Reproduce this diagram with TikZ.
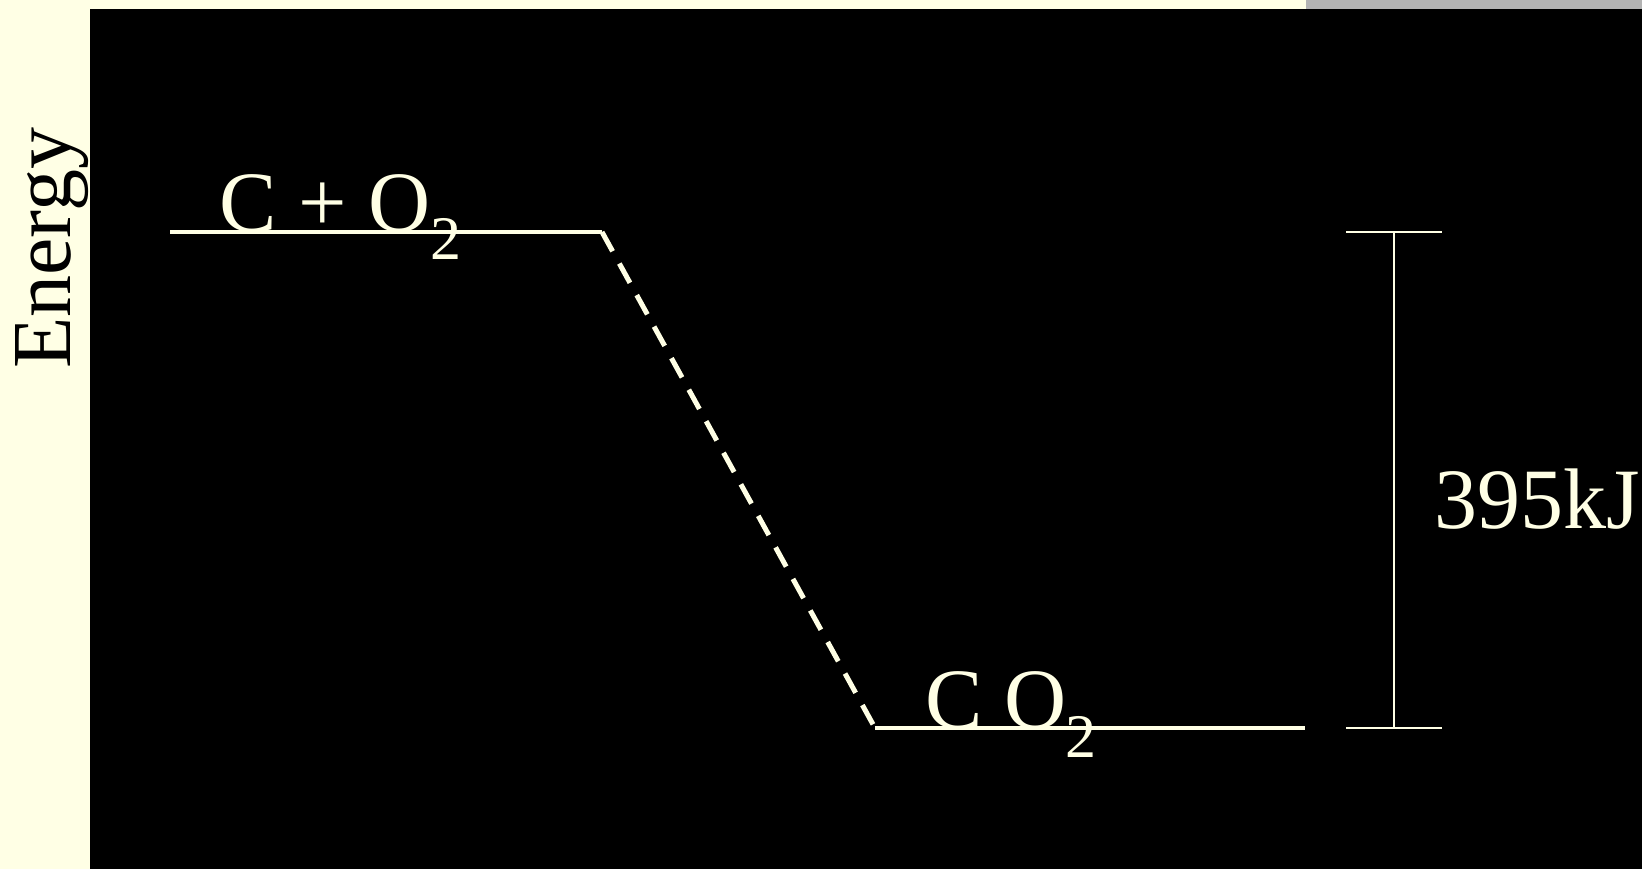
\documentclass[tikz,border=0pt]{standalone}
\usepackage{fontspec}
\setmainfont{Liberation Serif}
\definecolor{cream}{HTML}{FFFFE5}
\definecolor{topgray}{HTML}{B3B3B3}
\begin{document}
\begin{tikzpicture}[x=1pt,y=-1pt,
  bigtxt/.style={inner sep=0pt, font=\fontsize{86}{100}\selectfont},
  lbl/.style={bigtxt, text=cream, anchor=base west},
  level/.style={draw=cream, line width=4pt},
  trans/.style={draw=cream, line width=5pt, dash pattern=on 22pt off 14pt},
  bracket/.style={draw=cream, line width=2.5pt}]
\useasboundingbox (0,0) rectangle (1642,869);
\fill[cream] (0,0) rectangle (1642,869);
\fill[topgray] (1306,0) rectangle (1642,9);
\fill[black] (90,9) rectangle (1642,869);
% axis label
\node[inner sep=0pt, font=\fontsize{84}{100}\selectfont, text=black, rotate=90, anchor=base west] (energy) at (70,369) {Energy};
% levels
\coordinate (r1) at (170,232);
\coordinate (r2) at (602,232);
\coordinate (p1) at (875,728);
\coordinate (p2) at (1305,728);
\draw[level] (r1) -- (r2);
\draw[level] (p1) -- (p2);
\draw[trans] (r2) -- (p1);
\node[lbl] (react) at (219,232) {C + O\hspace{0pt}\raisebox{-28pt}{\fontsize{62}{62}\selectfont 2}};
\node[lbl] (prod) at (925,728) {C O\hspace{-1pt}\raisebox{-29pt}{\fontsize{62}{62}\selectfont 2}};
% bracket
\coordinate (bt) at (1394,232);
\coordinate (bb) at (1394,728);
\coordinate (btl) at (1346,232);
\coordinate (btr) at (1442,232);
\coordinate (bbl) at (1346,728);
\coordinate (bbr) at (1442,728);
\draw[bracket] (bt) -- (bb);
\draw[bracket] (btl) -- (btr);
\draw[bracket] (bbl) -- (bbr);
\node[lbl] (dh) at (1434,528) {395kJ};
\end{tikzpicture}
\end{document}
